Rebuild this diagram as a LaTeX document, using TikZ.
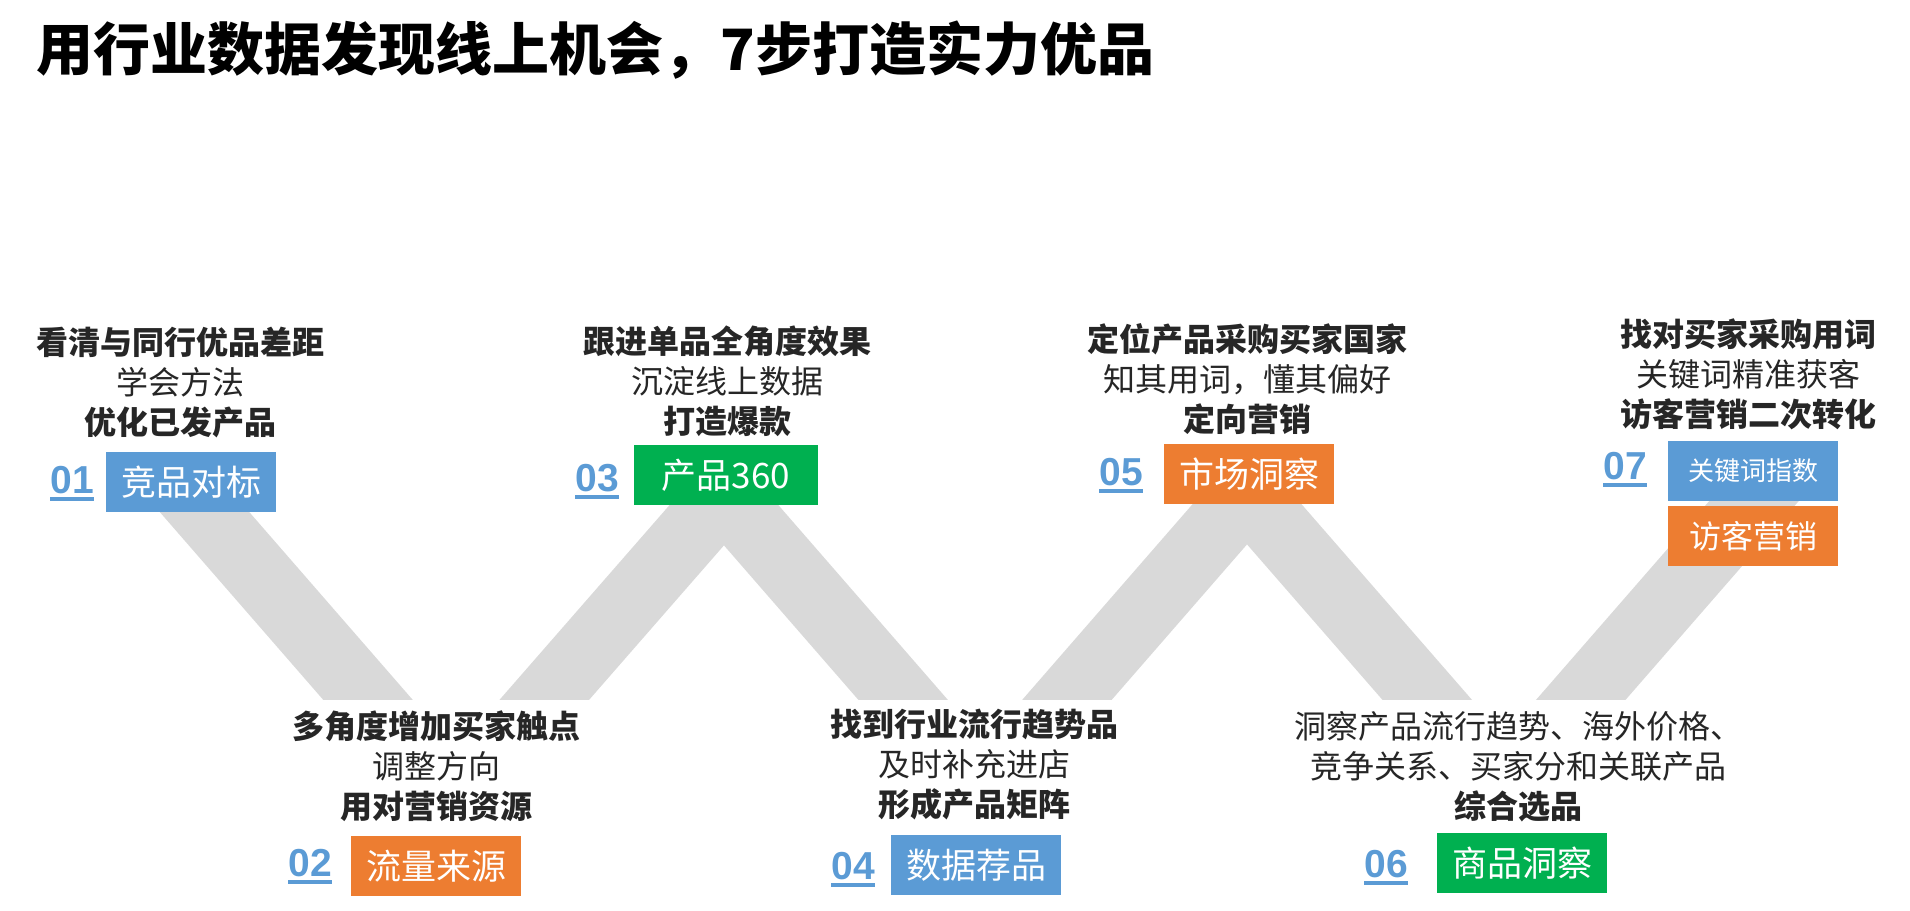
\documentclass[tikz,border=0pt]{standalone}
\usepackage{fontspec}
\setmainfont{Noto Sans CJK SC}
\newfontfamily\numfont{Liberation Sans}
\usepackage{xcolor}
\definecolor{stepblue}{HTML}{5B9BD5}
\definecolor{steporange}{HTML}{ED7D31}
\definecolor{stepgreen}{HTML}{00B050}
\definecolor{bandgray}{HTML}{D9D9D9}
\definecolor{txtgray}{HTML}{262626}

\begin{document}
\begin{tikzpicture}[x=0.5pt,y=-0.5pt,
  stepbox/.style={rectangle,inner sep=0pt,minimum width=85pt,minimum height=30pt,text=white,font=\fontsize{17.5}{20}\selectfont},
  num/.style={inner sep=0pt,anchor=west,text=stepblue,font=\numfont\bfseries\fontsize{19.5}{20}\selectfont},
  uline/.style={stepblue,line width=2pt},
  note/.style={align=center,text=txtgray,inner sep=0pt,font=\fontsize{16}{20}\selectfont},
  band/.style={bandgray,line width=33.75pt,line join=bevel}]
\useasboundingbox (0,0) rectangle (1910,910);
% title
\node[anchor=west,inner sep=0pt,font=\bfseries\fontsize{28.5}{30}\selectfont] (title) at (36,50) {用行业数据发现线上机会，7步打造实力优品};
% zigzag band, cut flat at the bottom
\begin{scope}
\clip (0,0) rectangle (1910,699);
\draw[band] (181,485) -- (456,801) -- (724,494) -- (985,794) -- (1247,493) -- (1504,788) -- (1781,470);
\end{scope}
% step boxes
\node[stepbox,fill=stepblue] (b1) at (191,482) {竞品对标};
\node[stepbox,fill=steporange] (b2) at (436,866) {流量来源};
\node[stepbox,fill=stepgreen,minimum width=92pt] (b3) at (726,475) {产品360};
\node[stepbox,fill=stepblue] (b4) at (976,865) {数据荐品};
\node[stepbox,fill=steporange] (b5) at (1249,474) {市场洞察};
\node[stepbox,fill=stepgreen] (b6) at (1522,863) {商品洞察};
\node[stepbox,fill=stepblue,font=\fontsize{13}{15}\selectfont] (b7a) at (1753,471) {关键词指数};
\node[stepbox,fill=steporange,font=\fontsize{16}{18}\selectfont] (b7b) at (1753,536) {访客营销};
% step numbers
\node[num] (n1) at (50,480) {01};
\node[num] (n2) at (288,863) {02};
\node[num] (n3) at (575,478) {03};
\node[num] (n4) at (831,866) {04};
\node[num] (n5) at (1099,472) {05};
\node[num] (n6) at (1364,864) {06};
\node[num] (n7) at (1603,466) {07};
\foreach \n in {n1,n2,n3,n4,n5,n6,n7}
  \draw[uline] ([yshift=-2.5pt]\n.south west) -- ([yshift=-2.5pt]\n.south east);
% notes
\node[note] (t1) at (180,383) {\textbf{看清与同行优品差距}\\学会方法\\\textbf{优化已发产品}};
\node[note] (t2) at (436,766) {\textbf{多角度增加买家触点}\\调整方向\\\textbf{用对营销资源}};
\node[note] (t3) at (727,381) {\textbf{跟进单品全角度效果}\\沉淀线上数据\\\textbf{打造爆款}};
\node[note] (t4) at (974.5,765) {\textbf{找到行业流行趋势品}\\及时补充进店\\\textbf{形成产品矩阵}};
\node[note] (t5) at (1247.5,379) {\textbf{定位产品采购买家国家}\\知其用词，懂其偏好\\\textbf{定向营销}};
\node[note] (t6) at (1518,767) {洞察产品流行趋势、海外价格、\\竞争关系、买家分和关联产品\\\textbf{综合选品}};
\node[note] (t7) at (1748.5,374) {\textbf{找对买家采购用词}\\关键词精准获客\\\textbf{访客营销二次转化}};
\end{tikzpicture}
\end{document}
